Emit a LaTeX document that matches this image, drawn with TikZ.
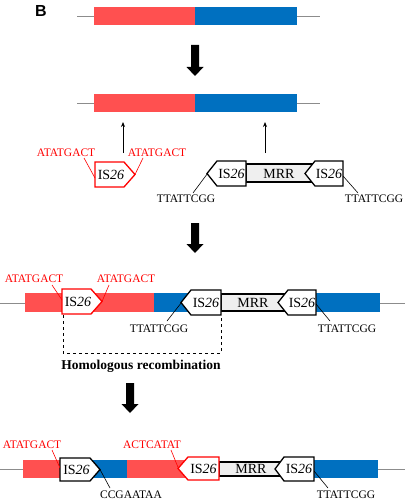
\documentclass[tikz,border=0pt]{standalone}
\usepackage{fontspec}
\setmainfont{Liberation Serif}
\newfontfamily\labsans{Liberation Sans}
\usetikzlibrary{arrows.meta}
\definecolor{barred}{HTML}{FF5050}
\definecolor{barblue}{HTML}{0070C0}
\definecolor{txtred}{HTML}{FF0000}
\definecolor{mrrfill}{HTML}{EFEFEF}
\tikzset{
  lab/.style={inner sep=0pt, font=\fontsize{11.5}{12}\selectfont},
  redlab/.style={lab, text=txtred},
  istext/.style={inner sep=0pt, font=\fontsize{14}{15}\selectfont},
  isbox/.style={fill=white, line width=1.3pt, line join=miter},
  mrrbox/.style={fill=mrrfill, draw=black, line width=1.1pt},
  conn/.style={line width=0.6pt},
  backbone/.style={line width=0.8pt, draw=black!45},
  thinarrow/.style={line width=0.8pt, -{Stealth[length=5pt,width=4pt]}},
  homol/.style={dashed, line width=0.9pt}
}
\newcommand\isRight[7]{%
  \draw[isbox,draw=#7] (#2,#5) -- (#3,#5) -- (#4,{(#5+#6)/2}) -- (#3,#6) -- (#2,#6) -- cycle;
  \node[istext] (#1) at ({(#2+#3)/2+1.5},{(#5+#6)/2}) {IS\textit{26}};}
\newcommand\isLeft[7]{%
  \draw[isbox,draw=#7] (#4,{(#5+#6)/2}) -- (#2,#5) -- (#3,#5) -- (#3,#6) -- (#2,#6) -- cycle;
  \node[istext] (#1) at ({(#2+#3)/2},{(#5+#6)/2}) {IS\textit{26}};}
\newcommand\bigArrow[3]{%
  \fill[black] ({#1-4},#2) -- ({#1+4},#2) -- ({#1+4},{#3-9}) -- ({#1+8.5},{#3-9}) -- (#1,#3)
    -- ({#1-8.5},{#3-9}) -- ({#1-4},{#3-9}) -- cycle;}
\begin{document}
\begin{tikzpicture}[x=1pt,y=-1pt]
\useasboundingbox (0,0) rectangle (405,500);

% label B
\node[font=\labsans\bfseries\fontsize{16}{16}\selectfont, inner sep=0pt] (B) at (41,11) {B};

% ---------- row 1 ----------
\coordinate (r1a) at (77,16); \coordinate (r1b) at (320,16);
\draw[backbone] (r1a) -- (r1b);
\fill[barred] (94,7) rectangle (195,25);
\fill[barblue] (195,7) rectangle (297,25);

\bigArrow{195}{45}{76}

% ---------- row 2 ----------
\coordinate (r2a) at (77,103); \coordinate (r2b) at (320,103);
\draw[backbone] (r2a) -- (r2b);
\fill[barred] (94,94) rectangle (195,112);
\fill[barblue] (195,94) rectangle (297,112);

\coordinate (ua1) at (123,153); \coordinate (ub1) at (123,122);
\coordinate (ua2) at (265,153); \coordinate (ub2) at (265,122);
\draw[thinarrow] (ua1) -- (ub1);
\draw[thinarrow] (ua2) -- (ub2);

% red IS26 element
\isRight{isA}{95}{124}{135}{162}{187}{txtred}
\node[redlab] (tA1) at (66,153) {ATATGACT};
\node[redlab] (tA2) at (157,153) {ATATGACT};
\coordinate (cA1) at (84,158); \coordinate (eA1) at (95,178);
\coordinate (cA2) at (143,158); \coordinate (eA2) at (135,174.5);
\draw[conn, txtred] (cA1) -- (eA1);
\draw[conn, txtred] (cA2) -- (eA2);

% black IS26-MRR-IS26 element
\draw[mrrbox] (246,164) rectangle (312,182);
\node[istext] (mrrA) at (279,173.5) {MRR};
\isLeft{isB}{217}{246}{207}{161}{186}{black}
\isLeft{isC}{315}{343}{305}{161}{186}{black}
\node[lab] (tB) at (186,199) {TTATTCGG};
\node[lab] (tC) at (374,199) {TTATTCGG};
\coordinate (eB) at (207.5,173.5); \coordinate (cB) at (193,193);
\coordinate (eC) at (343,176); \coordinate (cC) at (358,193);
\draw[conn] (eB) -- (cB);
\draw[conn] (eC) -- (cC);

\bigArrow{195}{223}{253}

% ---------- row 3 ----------
\coordinate (r3a) at (0,303); \coordinate (r3b) at (405,303);
\draw[backbone] (r3a) -- (r3b);
\fill[barred] (25,293) rectangle (154,312);
\fill[barblue] (154,293) rectangle (380,312);

\isRight{isD}{62}{91}{102}{289}{314}{txtred}
\node[redlab] (tD1) at (34,279) {ATATGACT};
\node[redlab] (tD2) at (126,279) {ATATGACT};
\coordinate (cD1) at (52,285); \coordinate (eD1) at (62,300);
\coordinate (cD2) at (109,285); \coordinate (eD2) at (102,301.5);
\draw[conn, txtred] (cD1) -- (eD1);
\draw[conn, txtred] (cD2) -- (eD2);

\draw[mrrbox] (221,294) rectangle (285,311);
\node[istext] (mrrB) at (253,302.5) {MRR};
\isLeft{isE}{191}{221}{181}{290}{315}{black}
\isLeft{isF}{288}{316}{278}{290}{315}{black}
\node[lab] (tE) at (159,329) {TTATTCGG};
\node[lab] (tF) at (347,329) {TTATTCGG};
\coordinate (eE) at (181.5,302.5); \coordinate (cE) at (167,321);
\coordinate (eF) at (316,304); \coordinate (cF) at (330,321);
\draw[conn] (eE) -- (cE);
\draw[conn] (eF) -- (cF);

% homologous recombination bracket
\coordinate (h1) at (63,315); \coordinate (h2) at (63,353);
\coordinate (h3) at (221,353); \coordinate (h4) at (221,316);
\draw[homol] (h1) -- (h2) -- (h3) -- (h4);
\node[inner sep=0pt, anchor=base, font=\bfseries\fontsize{13.5}{14}\selectfont] (hr) at (141,369) {Homologous recombination};

\bigArrow{130}{383}{413}

% ---------- row 4 ----------
\coordinate (r4a) at (0,469); \coordinate (r4b) at (405,469);
\draw[backbone] (r4a) -- (r4b);
\fill[barred] (23,460) rectangle (90,478);
\fill[barblue] (90,460) rectangle (127,478);
\fill[barred] (127,460) rectangle (200,478);
\fill[barblue] (300,460) rectangle (378,478);

\isRight{isG}{60}{90}{100}{458}{481}{black}
\draw[mrrbox] (219,462) rectangle (284,476);
\node[istext] (mrrC) at (251,469) {MRR};
\isLeft{isH}{188}{219}{178}{457}{480}{txtred}
\isLeft{isI}{284}{314}{275}{457}{481}{black}

\node[redlab] (tG) at (32,445) {ATATGACT};
\node[redlab] (tH) at (152,445) {ACTCATAT};
\node[lab] (tG2) at (131,495) {CCGAATAA};
\node[lab] (tI) at (346,495) {TTATTCGG};
\coordinate (cG) at (52,450); \coordinate (eG) at (60,468);
\coordinate (cH) at (171,450); \coordinate (eH) at (178.5,468.5);
\coordinate (eG2) at (100,469.5); \coordinate (cG2) at (110,488);
\coordinate (eI) at (314,471); \coordinate (cI) at (328,488);
\draw[conn, txtred] (cG) -- (eG);
\draw[conn, txtred] (cH) -- (eH);
\draw[conn] (eG2) -- (cG2);
\draw[conn] (eI) -- (cI);
\end{tikzpicture}
\end{document}
